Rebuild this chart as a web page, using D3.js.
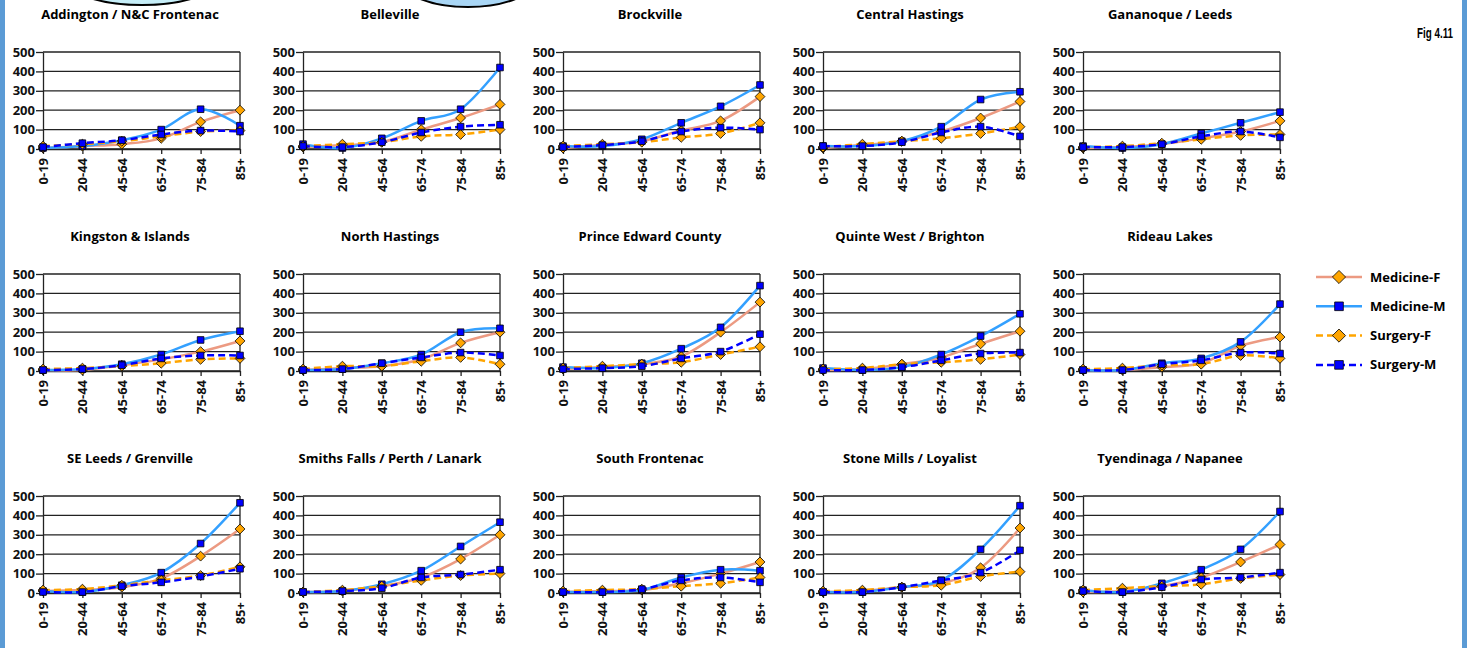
<!DOCTYPE html>
<html>
<head>
<meta charset="utf-8">
<script src="https://cdn.jsdelivr.net/npm/d3@7"></script>
<style>
    body { margin: 0; background: #fff; }
    svg { display: block; font-family: "Open Sans", sans-serif; font-weight: 700; }
</style>
</head>
<body>
<svg id="chart" width="1470" height="648"></svg>
<script>
// Age groups on the x axis of every panel
const ageGroups = ["0-19", "20-44", "45-64", "65-74", "75-84", "85+"];
const yTicks = [0, 100, 200, 300, 400, 500];

const regions = [
    "Addington / N&C Frontenac", "Belleville", "Brockville", "Central Hastings", "Gananoque / Leeds",
    "Kingston & Islands", "North Hastings", "Prince Edward County", "Quinte West / Brighton", "Rideau Lakes",
    "SE Leeds / Grenville", "Smiths Falls / Perth / Lanark", "South Frontenac", "Stone Mills / Loyalist", "Tyendinaga / Napanee"
];

// one row per region, values per age group
const medicineF = [
    [5, 15, 25, 55, 140, 200], [10, 20, 35, 100, 160, 230], [5, 20, 40, 95, 145, 270],
    [5, 20, 40, 90, 160, 245], [5, 10, 25, 55, 90, 145], [5, 5, 30, 60, 100, 155],
    [5, 15, 25, 60, 145, 200], [10, 20, 35, 75, 200, 355], [5, 10, 35, 70, 140, 205],
    [5, 5, 20, 40, 130, 175], [10, 15, 30, 75, 190, 330], [5, 10, 35, 80, 175, 300],
    [5, 10, 15, 50, 100, 160], [5, 10, 30, 50, 130, 335], [5, 10, 35, 80, 160, 250]
];
const medicineM = [
    [5, 15, 45, 100, 205, 120], [25, 5, 55, 145, 205, 420], [15, 15, 50, 135, 220, 330],
    [15, 15, 40, 115, 255, 295], [15, 5, 25, 80, 135, 190], [5, 10, 35, 85, 160, 205],
    [5, 10, 40, 85, 200, 220], [20, 15, 40, 115, 225, 440], [15, 5, 20, 85, 180, 295],
    [5, 5, 40, 65, 150, 345], [10, 5, 40, 105, 255, 465], [5, 10, 45, 115, 240, 365],
    [5, 5, 15, 80, 120, 115], [5, 5, 30, 65, 225, 450], [15, 5, 50, 120, 225, 420]
];
const surgeryF = [
    [15, 25, 40, 65, 90, 95], [15, 25, 35, 65, 75, 100], [15, 25, 35, 60, 80, 135],
    [10, 25, 40, 55, 80, 115], [10, 15, 30, 50, 70, 75], [10, 15, 25, 40, 60, 65],
    [10, 25, 25, 50, 70, 35], [15, 25, 35, 45, 85, 125], [10, 15, 35, 45, 60, 85],
    [10, 15, 30, 35, 80, 65], [15, 20, 40, 65, 90, 135], [5, 15, 35, 65, 90, 100],
    [10, 15, 20, 35, 50, 80], [10, 15, 30, 40, 85, 110], [15, 25, 35, 45, 75, 95]
];
const surgeryM = [
    [10, 30, 45, 75, 95, 90], [15, 10, 35, 85, 115, 125], [10, 20, 40, 90, 110, 100],
    [15, 15, 35, 85, 115, 65], [10, 10, 25, 65, 90, 60], [5, 10, 30, 65, 80, 80],
    [5, 10, 40, 70, 95, 80], [10, 15, 25, 65, 100, 190], [5, 5, 20, 55, 90, 95],
    [5, 5, 35, 55, 95, 90], [5, 5, 35, 55, 85, 125], [5, 10, 25, 80, 95, 120],
    [5, 5, 20, 65, 80, 55], [5, 5, 30, 65, 105, 220], [10, 5, 30, 70, 80, 105]
];

const seriesNames = ["Medicine-F", "Medicine-M", "Surgery-F", "Surgery-M"];

// styling for each series, same order as seriesNames
const series = [
    { name: seriesNames[0], values: medicineF, stroke: "#ec9a82", dash: null, shape: "diamond", fill: "#ffa500" },
    { name: seriesNames[1], values: medicineM, stroke: "#33a0ff", dash: null, shape: "square", fill: "#0000ff" },
    { name: seriesNames[2], values: surgeryF, stroke: "#ffa500", dash: "7,4", shape: "diamond", fill: "#ffa500" },
    { name: seriesNames[3], values: surgeryM, stroke: "#0000ff", dash: "7,4", shape: "square", fill: "#0000ff" }
];

const svg = d3.select("#chart");

// page frame bits -------------------------------------------------------------
svg.append("rect").attr("x", 0).attr("y", 0).attr("width", 5).attr("height", 648).attr("fill", "#5b9bd5");
svg.append("rect").attr("x", 1462).attr("y", 0).attr("width", 5).attr("height", 648).attr("fill", "#5b9bd5");

svg.append("ellipse")
    .attr("cx", 142).attr("cy", -20).attr("rx", 75).attr("ry", 25)
    .attr("fill", "#c6eef8").attr("stroke", "#000").attr("stroke-width", 2);
svg.append("ellipse")
    .attr("cx", 468).attr("cy", -23).attr("rx", 70).attr("ry", 30)
    .attr("fill", "#a9d6f5").attr("stroke", "#000").attr("stroke-width", 2);

svg.append("text")
    .attr("x", 1453).attr("y", 38)
    .attr("text-anchor", "end")
    .attr("textLength", 36)
    .attr("lengthAdjust", "spacingAndGlyphs")
    .style("font-family", "'Liberation Sans', sans-serif")
    .style("font-size", "14px")
    .text("Fig 4.11");

// panels -----------------------------------------------------------------------
const plotW = 197, plotH = 97;
const colStep = 260, rowStep = 222;
const originX = 43, originY = 52;

const xScale = d3.scalePoint().domain(ageGroups).range([0, plotW]).padding(0);
const yScale = d3.scaleLinear().domain([0, 500]).range([plotH, 0]);

const symbolFor = (shape, size) => d3.symbol()
    .type(shape === "diamond" ? d3.symbolDiamond2 : d3.symbolSquare2)
    .size(size)();

regions.forEach((region, i) => {
    const col = i % 5, row = Math.floor(i / 5);
    const g = svg.append("g")
        .attr("transform", `translate(${originX + col * colStep},${originY + row * rowStep})`);

    g.append("text")
        .attr("x", 87).attr("y", -33)
        .attr("text-anchor", "middle")
        .style("font-size", "13px")
        .text(region);

    // horizontal grid
    g.selectAll(".grid")
        .data(yTicks)
        .enter().append("line")
        .attr("x1", 0).attr("x2", plotW)
        .attr("y1", d => yScale(d)).attr("y2", d => yScale(d))
        .attr("stroke", "#222").attr("stroke-width", 1.3);

    g.append("line")
        .attr("x1", plotW).attr("x2", plotW)
        .attr("y1", 0).attr("y2", plotH)
        .attr("stroke", "#222").attr("stroke-width", 1.3);

    const yAxis = g.append("g")
        .call(d3.axisLeft(yScale).tickValues(yTicks).tickSize(7).tickSizeOuter(0));
    yAxis.selectAll("line, path").attr("stroke", "#222").attr("stroke-width", 1.3);
    yAxis.selectAll("text").style("font-size", "13px").style("font-family", "'Open Sans', sans-serif")
        .style("font-weight", 700).attr("fill", "#111").attr("x", -8);

    const xAxis = g.append("g")
        .attr("transform", `translate(0,${plotH})`)
        .call(d3.axisBottom(xScale).tickSize(5).tickSizeOuter(0));
    xAxis.selectAll("line, path").attr("stroke", "#222").attr("stroke-width", 1.3);
    xAxis.selectAll("text")
        .style("font-size", "13px").style("font-family", "'Open Sans', sans-serif")
        .style("font-weight", 700).attr("fill", "#111")
        .attr("text-anchor", "end")
        .attr("transform", "rotate(-90)")
        .attr("x", -9).attr("y", 0).attr("dy", "0.35em");

    const line = d3.line()
        .x((d, k) => xScale(ageGroups[k]))
        .y(d => yScale(d))
        .curve(d3.curveCardinal.tension(0));

    series.forEach(s => {
        const vals = s.values[i];
        g.append("path")
            .datum(vals)
            .attr("fill", "none")
            .attr("stroke", s.stroke)
            .attr("stroke-width", 2.5)
            .attr("stroke-dasharray", s.dash)
            .attr("d", line);

        g.selectAll(null)
            .data(vals)
            .enter().append("path")
            .attr("transform", (d, k) => `translate(${xScale(ageGroups[k])},${yScale(d)})`)
            .attr("d", symbolFor(s.shape, s.shape === "diamond" ? 62 : 56))
            .attr("fill", s.fill)
            .attr("stroke", "#000")
            .attr("stroke-width", 0.8);
    });
});

// legend -----------------------------------------------------------------------
const legend = svg.append("g").attr("transform", "translate(1316,277)");
series.forEach((s, k) => {
    const row = legend.append("g").attr("transform", `translate(0,${k * 29.3})`);
    row.append("line")
        .attr("x1", 0).attr("x2", 46)
        .attr("stroke", s.stroke).attr("stroke-width", 2.5)
        .attr("stroke-dasharray", s.dash);
    row.append("path")
        .attr("transform", "translate(23,0)")
        .attr("d", symbolFor(s.shape, s.shape === "diamond" ? 110 : 95))
        .attr("fill", s.fill).attr("stroke", "#000").attr("stroke-width", 0.8);
    row.append("text")
        .attr("x", 54).attr("dy", "0.35em")
        .style("font-size", "13px")
        .text(s.name);
});
</script>
</body>
</html>
